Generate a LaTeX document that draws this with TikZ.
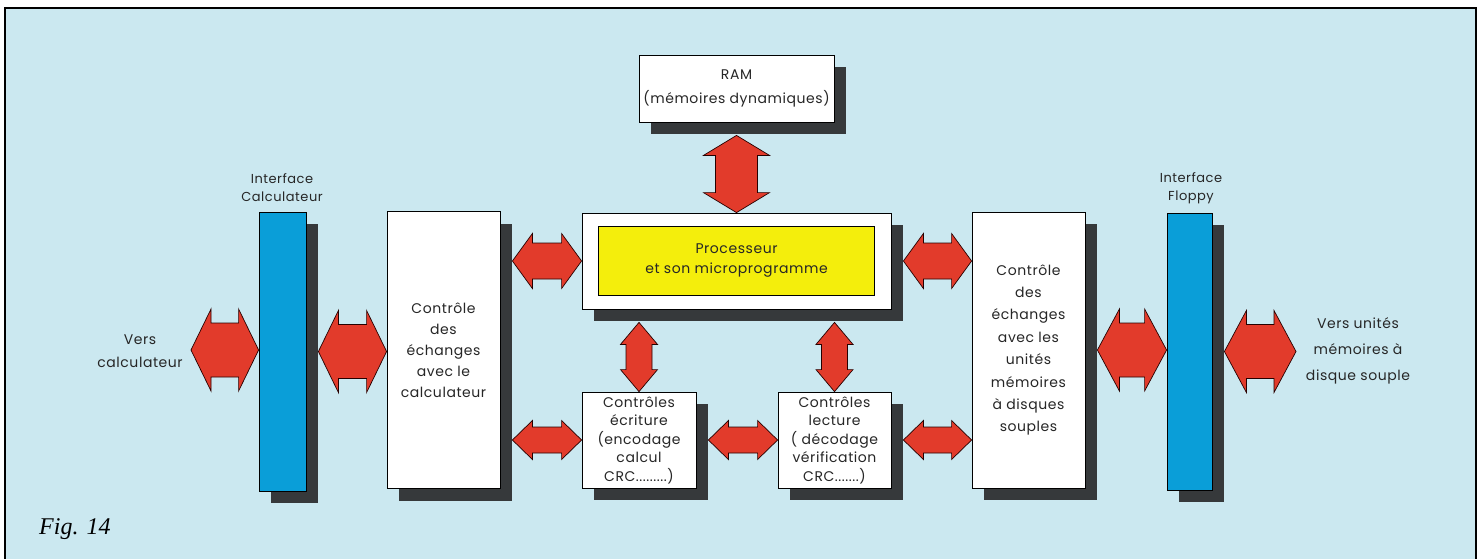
\documentclass[tikz,border=0pt]{standalone}
\usepackage{fontspec}
\setmainfont{Poppins}[LetterSpace=4]
\newfontfamily\figfont{Liberation Serif}
\usetikzlibrary{calc, shadows}

\definecolor{fond}{HTML}{CBE8F0}
\definecolor{bleubus}{HTML}{0A9ED8}
\definecolor{ombre}{HTML}{36393B}
\definecolor{fleche}{HTML}{E23B2B}
\definecolor{jaune}{HTML}{F4EE0C}

% double fleche horizontale : depart, arrivee, demi-hauteur tete, demi-hauteur corps, longueur tete
\newcommand{\hfleche}[5]{%
  \path[bloc fleche] let \p1=(#1), \p2=(#2) in
    (\x1,\y1) -- (\x1+#5pt,\y1+#3pt) -- (\x1+#5pt,\y1+#4pt) -- (\x2-#5pt,\y1+#4pt)
    -- (\x2-#5pt,\y1+#3pt) -- (\x2,\y1) -- (\x2-#5pt,\y1-#3pt) -- (\x2-#5pt,\y1-#4pt)
    -- (\x1+#5pt,\y1-#4pt) -- (\x1+#5pt,\y1-#3pt) -- cycle;}
% double fleche verticale : haut, bas, ...
\newcommand{\vfleche}[5]{%
  \path[bloc fleche] let \p1=(#1), \p2=(#2) in
    (\x1,\y1) -- (\x1+#3pt,\y1-#5pt) -- (\x1+#4pt,\y1-#5pt) -- (\x1+#4pt,\y2+#5pt)
    -- (\x1+#3pt,\y2+#5pt) -- (\x1,\y2) -- (\x1-#3pt,\y2+#5pt) -- (\x1-#4pt,\y2+#5pt)
    -- (\x1-#4pt,\y1-#5pt) -- (\x1-#3pt,\y1-#5pt) -- cycle;}

\begin{document}
\begin{tikzpicture}[x=1pt, y=-1pt,
    bloc/.style={draw=black, line width=0.8pt, fill=white, inner sep=0pt, align=center,
      drop shadow={shadow xshift=12pt, shadow yshift=-12pt, fill=ombre, opacity=1}},
    bus/.style={bloc, fill=bleubus},
    bloc fleche/.style={fill=fleche, draw=black!85!red, line width=0.7pt, line join=miter},
    txt/.style={align=center, inner sep=0pt, text=black!85}]
  \useasboundingbox (0,0) rectangle (1484,558);
  % cadre
  \draw[fill=fond, line width=1.2pt] (5,8) rectangle (1476,564);

  % blocs
  \node[bus, minimum width=47pt, minimum height=279pt] (ifC) at (282.5,351.5) {};
  \node[bloc, txt, minimum width=113pt, minimum height=277pt, font=\fontsize{14}{21}\selectfont] (ctlC) at (443.5,350)
    {Contrôle\\des\\échanges\\avec le\\calculateur};
  \node[bloc, txt, minimum width=195pt, minimum height=67pt, font=\fontsize{14}{24}\selectfont] (ram) at (736.5,88.5)
    {RAM\\(mémoires dynamiques)};
  \node[bloc, minimum width=309pt, minimum height=96pt] (proc) at (736.5,261) {};
  \node[draw, line width=0.8pt, fill=jaune, txt, minimum width=276pt, minimum height=69pt, font=\fontsize{14}{20}\selectfont] (micro) at (proc)
    {Processeur\\et son microprogramme};
  \node[bloc, txt, minimum width=114pt, minimum height=96pt, font=\fontsize{14}{18.5}\selectfont] (ecr) at (639,440)
    {Contrôles\\écriture\\(encodage\\calcul\\CRC.........)};
  \node[bloc, txt, minimum width=113pt, minimum height=96pt, font=\fontsize{14}{18.5}\selectfont] (lec) at (834.5,440)
    {Contrôles\\lecture\\( décodage\\vérification\\CRC.......)};
  \node[bloc, txt, minimum width=113pt, minimum height=276pt, font=\fontsize{14}{22.4}\selectfont] (ctlF) at (1028.5,350)
    {Contrôle\\des\\échanges\\avec les\\unités\\mémoires\\à disques\\souples};
  \node[bus, minimum width=45pt, minimum height=277pt] (ifF) at (1189.5,351.5) {};

  % textes
  \node[txt, font=\fontsize{13}{18}\selectfont] (labC) at (282,188) {Interface\\Calculateur};
  \node[txt, font=\fontsize{13}{18}\selectfont] (labF) at (1191,188) {Interface\\Floppy};
  \node[txt, font=\fontsize{14}{23}\selectfont] (versC) at (140,351) {Vers\\calculateur};
  \node[txt, font=\fontsize{14}{26}\selectfont] (versF) at (1358,351) {Vers unités\\mémoires à\\disque souple};
  \node[anchor=west, inner sep=0pt, font=\figfont\itshape\fontsize{24}{24}\selectfont] (fig) at (39,529) {Fig. 14};

  \coordinate (pc) at (191,350);
  \coordinate (pf) at (1296,350);

  % fleches
  \hfleche{pc}{ifC.west}{41}{27}{20}
  \hfleche{$(ifC.east)+(12pt,0)$}{ctlC.west}{41}{27}{20}
  \hfleche{$(ctlC.east |- proc.west)+(12pt,0)$}{proc.west}{27.5}{18}{20}
  \hfleche{$(proc.east)+(12pt,0)$}{ctlF.west |- proc.east}{27.5}{18}{20}
  \hfleche{$(ctlC.east |- ecr.west)+(12pt,0)$}{ecr.west}{19.5}{13}{20}
  \hfleche{$(ecr.east)+(12pt,0)$}{lec.west}{19.5}{13}{20}
  \hfleche{$(lec.east)+(12pt,0)$}{ctlF.west |- lec.east}{19.5}{13}{20}
  \hfleche{$(ctlF.east)+(12pt,0)$}{ifF.west}{41}{27}{22}
  \hfleche{$(ifF.east)+(12pt,0)$}{pf}{41}{27}{22}
  \vfleche{$(ram.south)+(0,-13pt)$}{proc.north}{33}{21}{20}
  \vfleche{$(ecr.north |- proc.south)+(0,-13pt)$}{ecr.north}{18.5}{13}{22}
  \vfleche{$(lec.north |- proc.south)+(0,-13pt)$}{lec.north}{18.5}{13}{22}
\end{tikzpicture}
\end{document}
